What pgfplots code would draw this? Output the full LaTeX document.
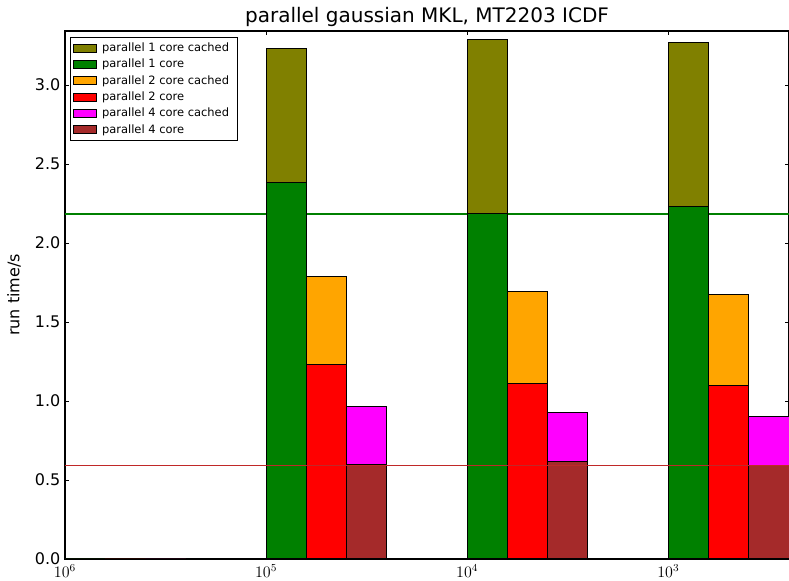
\documentclass[border=0pt]{standalone}
\usepackage{pgfplots}
\pgfplotsset{compat=1.18}
\usepackage{fontspec}
\setmainfont{DejaVu Sans}
\definecolor{cOlive}{HTML}{808000}
\definecolor{cGreen}{HTML}{008000}
\definecolor{cOrange}{HTML}{FFA500}
\definecolor{cRed}{HTML}{FF0000}
\definecolor{cMagenta}{HTML}{FF00FF}
\definecolor{cBrown}{HTML}{A52A2A}
\definecolor{cLineRed}{HTML}{C02828}
\begin{document}
\begin{tikzpicture}
\begin{axis}[
  scale only axis,
  width=543pt, height=396pt,
  xmin=0, xmax=3.6, ymin=0, ymax=3.342,
  xtick={0,1,2,3},
  xticklabels={$10^{6}$,$10^{5}$,$10^{4}$,$10^{3}$},
  ytick={0,0.5,1,1.5,2,2.5,3},
  yticklabel style={/pgf/number format/.cd, fixed, fixed zerofill, precision=1},
  /pgf/number format/assume math mode=true,
  tick label style={font=\fontsize{12}{14}\selectfont},
  xticklabel style={yshift=-1pt},
  tick align=inside,
  major tick length=3pt,
  tick style={black, line width=0.6pt},
  axis line style={black, line width=0.8pt},
  title={parallel gaussian MKL, MT2203 ICDF},
  title style={font=\fontsize{15}{18}\selectfont, yshift=-6pt},
  ylabel={run time/s},
  ylabel style={font=\fontsize{12}{14}\selectfont, at={(axis description cs:-0.0704,0.5)}, anchor=center},
  legend cell align=left,
  legend style={at={(axis description cs:0.007,0.989)}, anchor=north west,
    font=\fontsize{8.6}{10}\selectfont, draw=black, line width=0.8pt,
    row sep=0pt, inner sep=2pt,
    nodes={inner xsep=4pt, inner ysep=2.1pt}},
  legend image code/.code={\draw[#1, line width=0.6pt] (0pt,-3pt) rectangle (17pt,3pt);},
]
\addplot[sharp plot, mark=none, color=cGreen, draw=cGreen, line width=0.9pt, forget plot] coordinates {(0,2.184) (3.6,2.184)};
\addplot[ybar, bar width=0.2, bar shift=0.1, fill=cOlive, draw=black, line width=0.75pt] coordinates {(0,0) (1,3.234) (2,3.285) (3,3.266)};
\addlegendentry{parallel 1 core cached}
\addplot[ybar, bar width=0.2, bar shift=0.1, fill=cGreen, draw=black, line width=0.75pt] coordinates {(0,0) (1,2.380) (2,2.184) (3,2.228)};
\addlegendentry{parallel 1 core}
\addplot[ybar, bar width=0.2, bar shift=0.3, fill=cOrange, draw=black, line width=0.75pt] coordinates {(0,0) (1,1.791) (2,1.690) (3,1.677)};
\addlegendentry{parallel 2 core cached}
\addplot[ybar, bar width=0.2, bar shift=0.3, fill=cRed, draw=black, line width=0.75pt] coordinates {(0,0) (1,1.228) (2,1.108) (3,1.101)};
\addlegendentry{parallel 2 core}
\addplot[ybar, bar width=0.2, bar shift=0.5, fill=cMagenta, draw=black, line width=0.75pt] coordinates {(0,0) (1,0.968) (2,0.930) (3,0.899)};
\addlegendentry{parallel 4 core cached}
\addplot[ybar, bar width=0.2, bar shift=0.5, fill=cBrown, draw=black, line width=0.75pt] coordinates {(0,0) (1,0.601) (2,0.620) (3,0.589)};
\addlegendentry{parallel 4 core}
\end{axis}
\begin{axis}[
  scale only axis,
  width=543pt, height=396pt,
  xmin=0, xmax=3.6, ymin=0, ymax=3.342,
  hide axis,
]
\addplot[sharp plot, mark=none, color=cLineRed, line width=0.9pt] coordinates {(0,0.592) (3.6,0.592)};
\end{axis}
\pgfresetboundingbox
\path[use as bounding box] ([xshift=-48.75pt,yshift=-16.5pt]current axis.south west) rectangle ([yshift=23.25pt]current axis.north east);
\end{tikzpicture}
\end{document}
